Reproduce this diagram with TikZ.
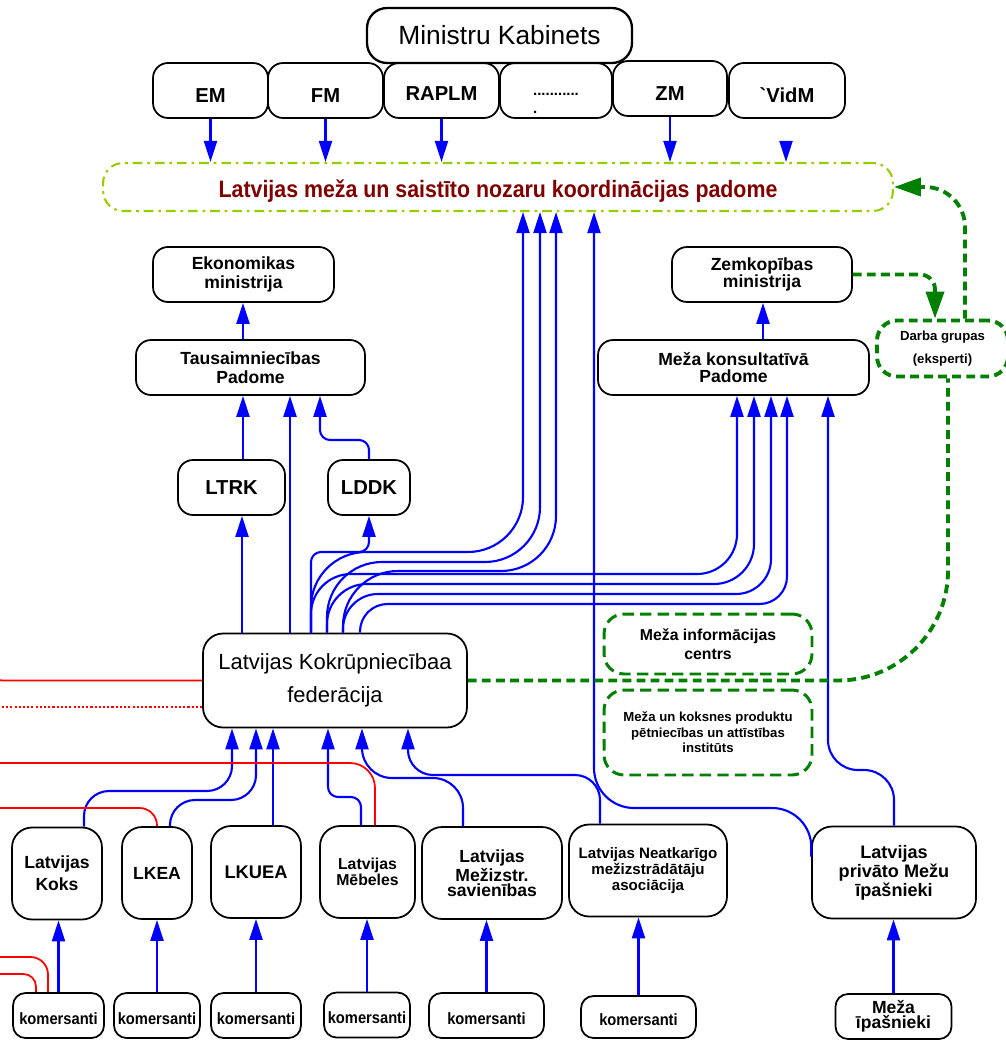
\documentclass[tikz,border=0pt]{standalone}
\usepackage{fontspec}
\setmainfont{Liberation Sans}
\newfontfamily\narrowfont[FakeStretch=0.9]{Liberation Sans}
\usetikzlibrary{arrows.meta,calc}
\definecolor{linkblue}{RGB}{0,0,255}
\definecolor{groupgreen}{RGB}{0,128,0}
\definecolor{councillime}{RGB}{153,204,0}
\definecolor{councilred}{RGB}{128,0,0}
\definecolor{tiered}{RGB}{255,0,0}

\tikzset{
  orgbox/.style={draw, line width=1pt, rounded corners=0.3cm, align=center, inner sep=0pt, font=\bfseries},
  ministry/.style={orgbox, minimum width=2.3cm, minimum height=1.1cm, text height=13.8pt, text depth=0pt,
    font=\bfseries\fontsize{11.5}{13}\selectfont},
  member/.style={orgbox, rounded corners=0.4cm, minimum height=1.84cm},
  trader/.style={orgbox, rounded corners=0.25cm, minimum height=0.9cm, text height=10pt, text depth=0pt,
    font=\narrowfont\bfseries\fontsize{9.3}{10}\selectfont},
  greenbox/.style={draw=groupgreen, line width=1.7pt, dash pattern=on 6.5pt off 3.5pt, rounded corners=0.4cm, align=center, inner sep=0pt},
  flow/.style={draw=linkblue, line width=1.2pt, -{Triangle[length=4.2mm,width=2.6mm]}},
  greenline/.style={draw=groupgreen, line width=2.2pt, dash pattern=on 5pt off 3pt},
  greenarrow/.style={greenline, -{Triangle[length=5.4mm,width=3.6mm]}},
  redline/.style={draw=tiered, line width=1pt},
}

\begin{document}
\begin{tikzpicture}[x=0.02cm, y=-0.02cm]
    \useasboundingbox (0,0) rectangle (1005,1040);

    % Cabinet and ministries
    \node[orgbox, line width=1.3pt, rounded corners=0.4cm, minimum width=5.3cm, minimum height=1.1cm,
        font=\fontsize{15}{17}\selectfont] (kabinets) at (499.5,35.5) {Ministru Kabinets};
    \node[ministry] (em) at (210.5,90.5) {EM};
    \node[ministry] (fm) at (325.5,90.5) {FM};
    \node[ministry, text height=11pt] (raplm) at (441.5,90.5) {RAPLM};
    \node[orgbox, minimum width=2.24cm, minimum height=1.1cm, align=left,
        font=\bfseries\fontsize{8.5}{10}\selectfont] (other) at (556,90.5) {\\[6pt]...........\\.};
    \node[ministry, minimum width=2.28cm] (zm) at (670,88.5) {ZM};
    \node[ministry, minimum width=2.32cm] (vidm) at (787,90.5) {\textasciigrave VidM};

    % Coordination council
    \node[draw=councillime, line width=1.2pt, dash pattern=on 5.5pt off 2.8pt on 1.5pt off 2.8pt,
        rounded corners=0.4cm, minimum width=15.8cm, minimum height=0.96cm, inner sep=0pt,
        text height=12pt, text depth=0pt, text=councilred, font=\narrowfont\bfseries\fontsize{13.5}{15}\selectfont]
        (council) at (498,187) {Latvijas meža un saistīto nozaru koordinācijas padome};

    % Left column
    \node[orgbox, minimum width=3.62cm, minimum height=1.1cm, font=\bfseries\fontsize{10}{11}\selectfont]
        (ekm) at (243.5,274.5) {Ekonomikas\\ministrija};
    \node[orgbox, minimum width=4.58cm, minimum height=1.1cm, font=\bfseries\fontsize{10}{10.8}\selectfont]
        (tpadome) at (250.5,367.5) {Tausaimniecības\\Padome};
    \node[orgbox, minimum width=2.14cm, minimum height=1.1cm, font=\bfseries\fontsize{11.5}{13}\selectfont]
        (ltrk) at (231.5,487.5) {LTRK};
    \node[orgbox, minimum width=1.64cm, minimum height=1.1cm, font=\bfseries\fontsize{11.5}{13}\selectfont]
        (lddk) at (369,487.5) {LDDK};

    % Right column
    \node[orgbox, minimum width=3.6cm, minimum height=1.1cm, font=\bfseries\fontsize{10}{9.6}\selectfont]
        (zemm) at (762,274.5) {Zemkopības\\ministrija};
    \node[orgbox, minimum width=5.42cm, minimum height=1.1cm, font=\bfseries\fontsize{10}{10.2}\selectfont]
        (mkpadome) at (733.5,367.5) {Meža konsultatīvā\\Padome};
    \node[greenbox, line width=2.2pt, dash pattern=on 5pt off 3pt, minimum width=2.62cm, minimum height=1.12cm,
        font=\bfseries\fontsize{7.5}{13.5}\selectfont] (darba) at (942.5,348.5) {Darba grupas\\(eksperti)};

    % Federation and institutes
    \node[orgbox, rounded corners=0.4cm, minimum width=5.28cm, minimum height=1.88cm,
        font=\fontsize{12.5}{19}\selectfont] (lkf) at (335,680.5) {Latvijas Kokrūpniecībaa\\federācija};
    \node[greenbox, minimum width=4.16cm, minimum height=1.2cm, font=\bfseries\fontsize{9}{10.8}\selectfont]
        (infocentrs) at (708,644) {Meža informācijas\\centrs};
    \node[greenbox, minimum width=4.16cm, minimum height=1.7cm, font=\bfseries\fontsize{7.5}{8.8}\selectfont]
        (institutes) at (708,732.5) {Meža un koksnes produktu\\pētniecības un attīstības\\institūts};

    % Member associations
    \node[member, minimum width=1.8cm, font=\bfseries\fontsize{10}{12.5}\selectfont] (koks) at (57,873.5) {Latvijas\\Koks};
    \node[member, minimum width=1.4cm, font=\bfseries\fontsize{10}{12}\selectfont] (lkea) at (157,873) {LKEA};
    \node[member, minimum width=1.8cm, font=\bfseries\fontsize{10.4}{12}\selectfont] (lkuea) at (256,872) {LKUEA};
    \node[member, minimum width=1.9cm, font=\bfseries\fontsize{9}{8}\selectfont] (mebeles) at (367.5,872) {Latvijas\\Mēbeles};
    \node[member, minimum width=2.8cm, font=\bfseries\fontsize{10}{8.5}\selectfont] (mezizstr) at (492,873) {Latvijas\\Mežizstr.\\savienības};
    \node[member, minimum width=3.16cm, font=\bfseries\fontsize{8.6}{9}\selectfont] (neatkarigie) at (648,870.5) {Latvijas Neatkarīgo\\mežizstrādātāju\\asociācija};
    \node[member, minimum width=3.28cm, font=\bfseries\fontsize{10.3}{10.8}\selectfont] (privatie) at (894,872.5) {Latvijas\\privāto Mežu\\īpašnieki};

    % Companies
    \node[trader, minimum width=1.82cm] (kom1) at (58.5,1015.5) {komersanti};
    \node[trader, minimum width=1.72cm] (kom2) at (157,1015.5) {komersanti};
    \node[trader, minimum width=1.8cm] (kom3) at (256,1015.5) {komersanti};
    \node[trader, minimum width=1.72cm] (kom4) at (367,1015) {komersanti};
    \node[trader, minimum width=2.3cm] (kom5) at (486.5,1015.5) {komersanti};
    \node[trader, minimum width=2.3cm, minimum height=0.84cm] (kom6) at (638.5,1017) {komersanti};
    \node[orgbox, rounded corners=0.25cm, minimum width=2.32cm, minimum height=0.9cm,
        font=\bfseries\fontsize{10}{7.5}\selectfont] (owners) at (893.5,1016.5) {Meža\\īpašnieki};

    % Ministries into the council
    \foreach \m in {em,fm,raplm,zm}
        \draw[flow] (\m.south) -- (\m.south |- council.north);
    \coordinate (vidmtip) at ($(vidm.south)+(-1,24)$);
    \draw[flow] (vidmtip) -- (vidmtip |- council.north);

    % Left column links
    \draw[flow] (tpadome.north -| 243,0) -- (ekm.south -| 243,0);
    \draw[flow] (ltrk.north -| 243,0) -- (tpadome.south -| 243,0);
    \draw[flow] (lkf.north -| 290,0) -- (tpadome.south -| 290,0);
    \draw[flow, rounded corners=0.2cm] (lddk.north) -- (369,440) -- (320,440) -- (tpadome.south -| 320,0);
    \draw[flow] (lkf.north -| 242,0) -- (ltrk.south -| 242,0);
    \draw[flow, rounded corners=0.2cm] (lkf.north -| 311,0) -- (311,552) -- (369,552) -- (lddk.south);

    % Federation up to the council
    \draw[flow, rounded corners=1.1cm] (lkf.north -| 311,0) -- (311,552) -- (523,552) -- (council.south -| 523,0);
    \draw[flow, rounded corners=1.1cm] (lkf.north -| 327,0) -- (327,562) -- (540,562) -- (council.south -| 540,0);
    \draw[flow, rounded corners=1.1cm] (lkf.north -| 343,0) -- (343,571) -- (556,571) -- (council.south -| 556,0);

    % Federation up to the consultative council
    \draw[flow, rounded corners=0.8cm] (lkf.north -| 311,0) -- (311,574) -- (737,574) -- (mkpadome.south -| 737,0);
    \draw[flow, rounded corners=0.8cm] (lkf.north -| 327,0) -- (327,584) -- (754,584) -- (mkpadome.south -| 754,0);
    \draw[flow, rounded corners=0.7cm] (lkf.north -| 343,0) -- (343,594) -- (771,594) -- (mkpadome.south -| 771,0);
    \draw[flow, rounded corners=0.55cm] (lkf.north -| 360,0) -- (360,604) -- (787,604) -- (mkpadome.south -| 787,0);
    \draw[flow] (mkpadome.north -| 763,0) -- (zemm.south -| 763,0);

    % Forest owners
    \draw[flow, rounded corners=0.8cm] ($(privatie.north west)+(0,31)$) -- (812,808) -- (594,808) -- (council.south -| 594,0);
    \draw[flow, rounded corners=0.6cm] (privatie.north) -- (894,770) -- (828,770) -- (mkpadome.south -| 828,0);

    % Associations into the federation
    \draw[flow, rounded corners=0.5cm] (koks.north -| 84,0) -- (84,791) -- (232,791) -- (lkf.south -| 232,0);
    \draw[flow, rounded corners=0.5cm] (lkea.north -| 170,0) -- (170,800) -- (256,800) -- (lkf.south -| 256,0);
    \draw[flow] (lkuea.north -| 273,0) -- (lkf.south -| 273,0);
    \draw[flow, rounded corners=0.2cm] (mebeles.north -| 361,0) -- (361,797) -- (328,797) -- (lkf.south -| 328,0);
    \draw[flow, rounded corners=0.6cm] (mezizstr.north -| 463,0) -- (463,778) -- (362,778) -- (lkf.south -| 362,0);
    \draw[flow, rounded corners=0.5cm] (neatkarigie.north -| 600,0) -- (600,775) -- (408,775) -- (lkf.south -| 408,0);

    % Companies into associations
    \foreach \k/\a in {kom1/koks, kom2/lkea, kom3/lkuea, kom4/mebeles, kom5/mezizstr, kom6/neatkarigie, owners/privatie}
        \draw[flow] (\k.north) -- (\k.north |- \a.south);

    % Red ties to the left
    \draw[redline, rounded corners=0.3cm] (lkf.west) -- (-12,680.5) -- (-12,640);
    \draw[redline, dash pattern=on 1.2pt off 1.2pt] (lkf.west |- 0,707) -- (0,707);
    \draw[redline, rounded corners=0.5cm] (mebeles.north -| 375,0) -- (375,763) -- (-10,763);
    \draw[redline, rounded corners=0.35cm] (lkea.north) -- (157,808) -- (-10,808);
    \draw[redline, rounded corners=0.35cm] (kom1.north -| 48,0) -- (48,957) -- (-10,957);
    \draw[redline, rounded corners=0.25cm] (kom1.north -| 36,0) -- (36,974) -- (-10,974);

    % Working groups
    \draw[greenline, rounded corners=2.2cm] (lkf.east) -- (948,680.5) -- (darba.south -| 948,0);
    \draw[greenarrow, rounded corners=0.3cm] (zemm.east) -- (935,274.5) -- (darba.north -| 935,0);
    \draw[greenarrow, rounded corners=0.8cm] (darba.north -| 965,0) -- (965,187) -- (council.east);
\end{tikzpicture}
\end{document}
